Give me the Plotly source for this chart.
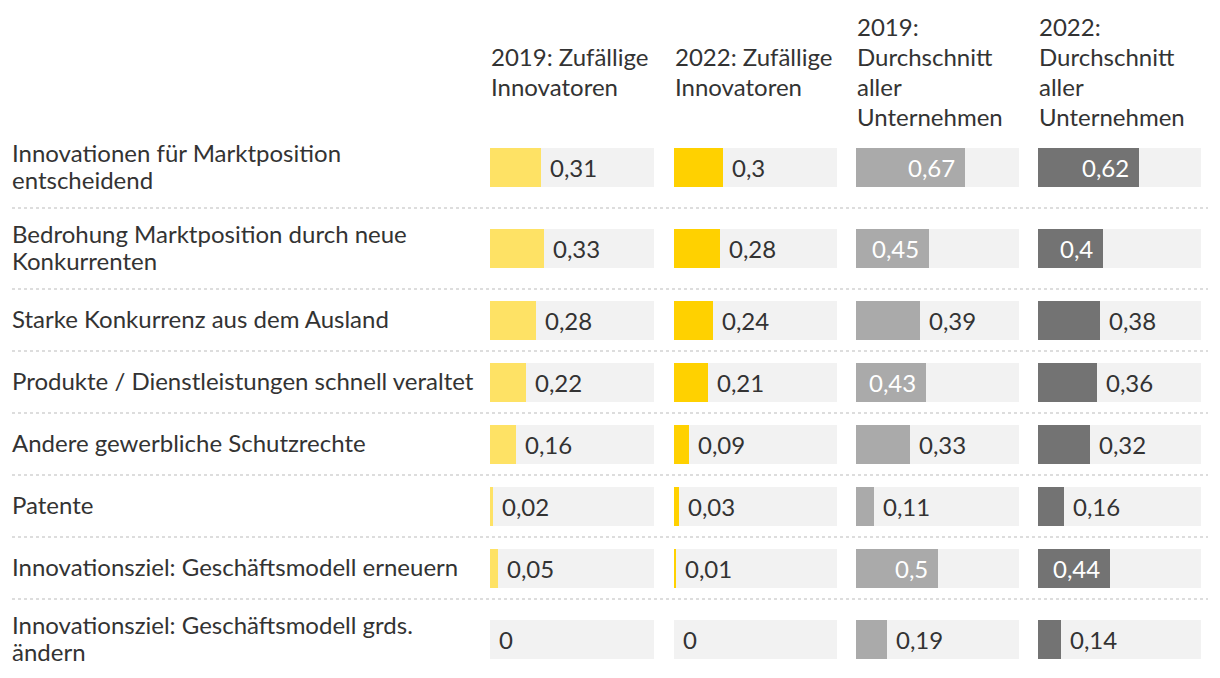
import plotly.graph_objects as go

# ---- data ----
row_labels = [
    "Innovationen für Marktposition\nentscheidend",
    "Bedrohung Marktposition durch neue\nKonkurrenten",
    "Starke Konkurrenz aus dem Ausland",
    "Produkte / Dienstleistungen schnell veraltet",
    "Andere gewerbliche Schutzrechte",
    "Patente",
    "Innovationsziel: Geschäftsmodell erneuern",
    "Innovationsziel: Geschäftsmodell grds.\nändern",
]
col_headers = [
    "2019: Zufällige\nInnovatoren",
    "2022: Zufällige\nInnovatoren",
    "2019:\nDurchschnitt\naller\nUnternehmen",
    "2022:\nDurchschnitt\naller\nUnternehmen",
]
innov_2019 = [0.31, 0.33, 0.28, 0.22, 0.16, 0.02, 0.05, 0.0]
innov_2022 = [0.30, 0.28, 0.24, 0.21, 0.09, 0.03, 0.01, 0.0]
avg_2019 = [0.67, 0.45, 0.39, 0.43, 0.33, 0.11, 0.50, 0.19]
avg_2022 = [0.62, 0.40, 0.38, 0.36, 0.32, 0.16, 0.44, 0.14]
series = [innov_2019, innov_2022, avg_2019, avg_2022]

# ---- style / geometry (page pixels) ----
OFF = 8  # default body margin of the html page
W, H = 1220 - OFF, 678 - OFF
FONT = "Lato"
TXT = "#333333"
FS = 24
colors = ["#FEE265", "#FFD100", "#AAAAAA", "#737373"]
inside_ok = [False, False, True, True]
BG = "#F2F2F2"
col_px = [(490, 654), (674, 837), (856, 1019), (1038, 1201)]
LINE2, LINE1 = 81, 62
TOP = 127
BAR_H = 39


def px_x(p):
    return (p - OFF) / W


def px_y(p):
    return p - OFF


def fmt(v):
    s = f"{v:.2f}".rstrip("0").rstrip(".")
    return s.replace(".", ",")


# row geometry (page px)
centers, seps = [], []
y = TOP
for lab in row_labels:
    h = LINE2 if "\n" in lab else LINE1
    centers.append(y + h / 2)
    y += h
    seps.append(y)
seps = seps[:-1]
yc = [px_y(c) for c in centers]

fig = go.Figure()
axis_names = ["x", "x2", "x3", "x4"]
for i, vals in enumerate(series):
    fig.add_trace(go.Bar(
        y=yc, x=[1.0] * len(vals), orientation="h", width=BAR_H,
        marker=dict(color=BG, line=dict(width=0)), xaxis=axis_names[i], yaxis="y",
        hoverinfo="skip", showlegend=False))
    fig.add_trace(go.Bar(
        y=yc, x=vals, orientation="h", width=BAR_H,
        marker=dict(color=colors[i], line=dict(width=0)), xaxis=axis_names[i], yaxis="y",
        showlegend=False))

layout = dict(
    width=W, height=H, margin=dict(l=0, r=0, t=0, b=0),
    paper_bgcolor="white", plot_bgcolor="rgba(0,0,0,0)",
    barmode="overlay", bargap=0,
    yaxis=dict(range=[H, 0], domain=[0, 1], visible=False, fixedrange=True),
    font=dict(family=FONT, color=TXT, size=FS),
)
for i, (a, b) in enumerate(col_px):
    key = "xaxis" if i == 0 else f"xaxis{i+1}"
    layout[key] = dict(domain=[px_x(a), px_x(b)], range=[0, 1], visible=False,
                       anchor="y", fixedrange=True)
fig.update_layout(**layout)

anns = []
# row labels (per line)
LH_ROW = 27
for c, lab in zip(centers, row_labels):
    lines = lab.split("\n")
    n = len(lines)
    for k, ln in enumerate(lines):
        yy = c + (k - (n - 1) / 2) * LH_ROW - 2
        anns.append(dict(x=px_x(10), xref="paper", y=px_y(yy), yref="y", text=ln,
                         showarrow=False, xanchor="left", yanchor="middle",
                         font=dict(size=FS, color=TXT, family=FONT)))
# headers (vertically centred)
LH_HEAD = 29.7
HEAD_MID = 71.5
for (a, b), hd in zip(col_px, col_headers):
    lines = hd.split("\n")
    n = len(lines)
    for k, ln in enumerate(lines):
        yy = HEAD_MID + (k - (n - 1) / 2) * LH_HEAD
        anns.append(dict(x=px_x(a - 1), xref="paper", y=px_y(yy), yref="y", text=ln,
                         showarrow=False, xanchor="left", yanchor="middle",
                         font=dict(size=FS, color=TXT, family=FONT)))
# value labels
for i, vals in enumerate(series):
    for c, v in zip(yc, vals):
        inside = inside_ok[i] and v >= 0.4
        anns.append(dict(x=v, xref=axis_names[i], y=c, yref="y", text=fmt(v),
                         showarrow=False,
                         xanchor="right" if inside else "left",
                         xshift=-8 if inside else 7,
                         yanchor="middle",
                         font=dict(size=FS, family=FONT,
                                   color="white" if inside else TXT)))
fig.update_layout(annotations=anns)

# dotted separators
shapes = []
for s in seps:
    shapes.append(dict(type="line", xref="paper", yref="y", x0=px_x(12), x1=px_x(1208),
                       y0=px_y(s), y1=px_y(s),
                       line=dict(color="#DDDDDD", width=2, dash="dot")))
fig.update_layout(shapes=shapes)

fig.write_html("out.html")
